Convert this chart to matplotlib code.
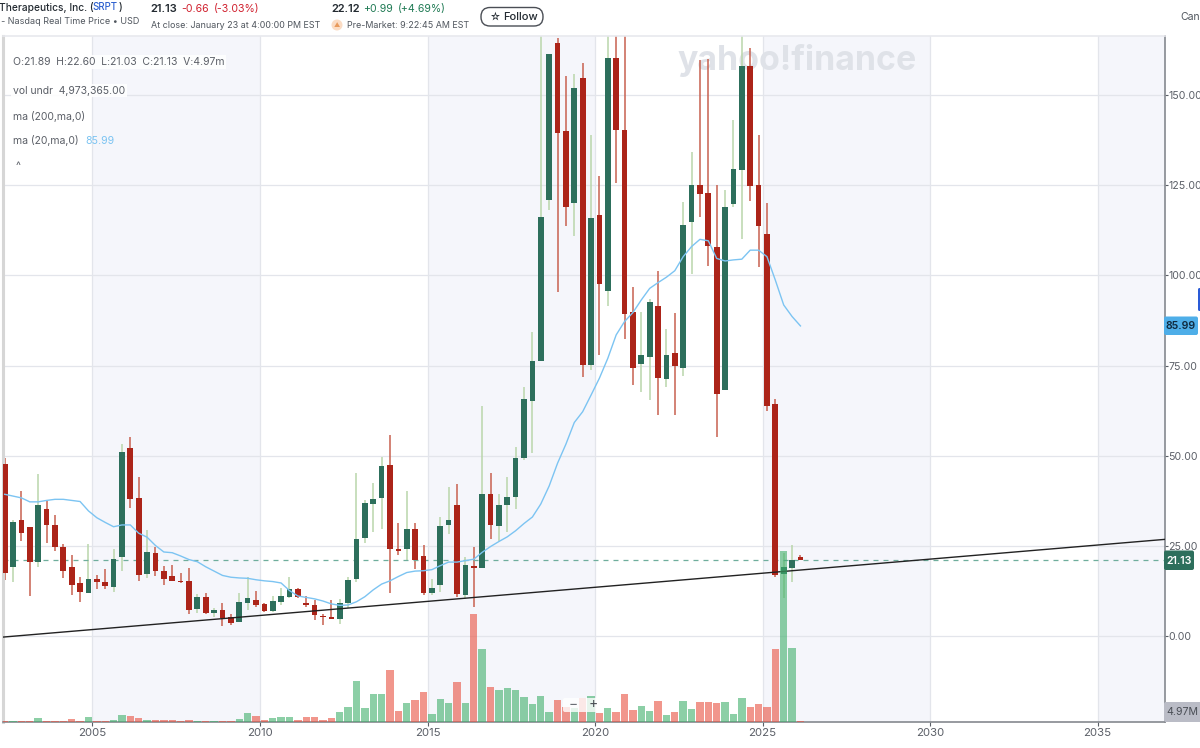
from matplotlib import pyplot as plt
from matplotlib.patches import FancyBboxPatch, Circle
from matplotlib.transforms import IdentityTransform
import numpy as np

# quarterly candles of SRPT
first_year = 2002.38
opens = [47.6, 19.2, 32.1, 30.1, 20.5, 35.3, 30.8, 24.8, 19.1, 14.6, 12.0, 15.7,
         15.1, 13.6, 21.8, 52.1, 38.2, 17.1, 23.0, 18.0, 16.6, 15.3, 15.3, 7.4,
         10.9, 6.5, 7.1, 5.3, 4.0, 9.2, 10.1, 8.8, 6.9, 9.5, 10.8, 13.0,
         9.2, 8.5, 5.6, 5.4, 4.8, 9.1, 15.8, 27.3, 36.7, 38.2, 47.4, 24.0,
         24.2, 29.8, 22.2, 11.8, 14.1, 30.9, 36.2, 11.5, 19.4, 18.8, 39.5, 30.4,
         36.2, 38.6, 49.4, 65.2, 76.2, 121.0, 164.5, 140.0, 120.2, 154.7, 75.2, 116.7,
         95.6, 160.4, 140.3, 89.9, 75.4, 77.5, 91.6, 71.3, 78.5, 74.4, 114.7, 125.1,
         122.9, 108.0, 68.1, 119.9, 129.2, 158.1, 125.1, 111.5, 64.4, 17.1, 18.9, 21.89]
highs = [49.5, 32.2, 40.3, 30.1, 44.8, 37.5, 33.6, 25.4, 22.4, 16.4, 25.4, 17.0,
         18.5, 24.1, 53.2, 55.3, 44.0, 29.4, 24.8, 19.4, 19.7, 17.4, 18.8, 11.6,
         11.8, 7.7, 9.2, 6.0, 11.8, 16.4, 12.5, 9.2, 11.2, 13.3, 16.4, 13.2,
         11.2, 10.0, 6.1, 9.9, 10.3, 16.3, 45.1, 37.7, 42.3, 49.7, 55.7, 31.2,
         40.1, 31.2, 25.1, 15.7, 33.1, 41.4, 42.1, 22.0, 24.6, 63.8, 45.3, 39.3,
         44.2, 52.5, 69.0, 84.3, 172.0, 161.5, 165.7, 155.3, 155.9, 159.0, 138.8, 127.6,
         172.0, 175.0, 180.0, 96.8, 89.9, 93.5, 101.3, 85.1, 89.5, 120.3, 134.1, 159.7,
         160.0, 125.1, 123.6, 143.0, 170.0, 163.0, 138.8, 120.1, 65.8, 23.0, 25.2, 22.60]
lows = [15.5, 15.1, 26.3, 11.2, 19.0, 25.9, 23.6, 16.2, 11.4, 9.3, 12.0, 12.9,
        13.1, 12.3, 17.9, 35.6, 15.3, 16.0, 16.6, 14.1, 15.3, 14.8, 6.1, 6.3,
        6.1, 5.4, 2.9, 3.1, 4.0, 7.2, 8.0, 6.7, 6.7, 8.6, 10.4, 10.4,
        8.0, 4.4, 3.1, 4.8, 3.3, 7.7, 14.9, 25.9, 28.9, 29.7, 12.0, 22.5,
        21.1, 18.5, 11.5, 11.5, 12.1, 28.3, 10.9, 10.2, 8.0, 18.8, 26.8, 26.3,
        28.8, 35.3, 48.8, 50.8, 76.2, 118.1, 95.3, 113.7, 111.0, 71.9, 73.8, 78.0,
        91.6, 125.5, 82.5, 69.6, 67.8, 65.4, 61.3, 69.1, 61.3, 72.1, 100.4, 116.3,
        102.6, 55.3, 68.1, 119.1, 110.0, 120.5, 102.2, 62.5, 16.4, 10.5, 15.1, 21.03]
closes = [17.6, 31.6, 28.6, 20.6, 36.4, 30.9, 24.7, 17.9, 14.2, 12.1, 15.7, 15.0,
          13.9, 21.4, 51.1, 38.0, 16.9, 23.3, 17.9, 15.8, 15.3, 15.0, 7.2, 10.9,
          6.5, 7.3, 5.0, 3.7, 9.4, 10.4, 8.6, 6.9, 9.6, 11.0, 12.9, 10.9,
          8.6, 5.7, 5.3, 4.8, 9.1, 15.5, 26.9, 36.9, 38.0, 47.2, 24.2, 23.7,
          29.8, 21.0, 11.8, 13.3, 30.4, 32.1, 11.6, 19.6, 18.9, 39.3, 30.9, 36.2,
          38.5, 49.4, 65.6, 76.4, 116.2, 161.5, 139.6, 119.1, 152.1, 75.2, 116.0, 97.7,
          160.4, 140.2, 89.4, 74.4, 77.8, 92.5, 71.5, 78.0, 74.9, 114.1, 125.1, 122.7,
          108.2, 67.1, 119.1, 129.6, 158.1, 124.7, 113.7, 63.7, 16.9, 19.2, 21.1, 21.13]
# volume in millions
volumes = [3, 3, 3, 3, 17, 3, 3, 3, 12, 3, 22, 2,
           2, 10, 33, 28, 18, 10, 10, 10, 10, 3, 10, 3,
           3, 3, 3, 3, 13, 43, 28, 10, 17, 22, 22, 10,
           22, 22, 8, 17, 47, 72, 203, 67, 137, 137, 258, 55,
           95, 107, 148, 37, 113, 95, 200, 95, 538, 363, 173, 157,
           168, 157, 122, 90, 127, 48, 107, 73, 67, 120, 130, 42,
           70, 50, 140, 58, 77, 53, 105, 35, 50, 105, 65, 100,
           100, 92, 100, 38, 120, 73, 87, 73, 365, 855, 370, 4.97]
ma20 = [39.3, 38.8, 38.3, 37.2, 37.2, 37.6, 37.9, 37.9, 37.6, 37.3, 34.7, 32.8,
        31.5, 30.3, 30.8, 30.8, 28.5, 27.4, 25.1, 23.3, 23.1, 22.2, 21.2, 20.6,
        19.2, 18.0, 16.8, 16.3, 16.1, 16.0, 15.6, 15.3, 15.1, 14.7, 12.6, 11.1,
        10.7, 10.3, 9.7, 8.9, 8.5, 8.6, 9.5, 10.9, 12.8, 14.4, 15.3, 16.5,
        17.6, 18.0, 18.1, 18.4, 19.5, 20.5, 20.5, 20.9, 21.3, 23.2, 24.8, 26.2,
        27.5, 29.2, 31.2, 33.0, 36.6, 41.6, 47.9, 53.2, 59.2, 62.2, 66.8, 71.5,
        77.0, 83.5, 87.2, 89.7, 93.2, 96.4, 98.0, 99.5, 101.3, 105.2, 108.0, 110.0,
        109.6, 104.7, 104.0, 104.3, 104.5, 107.0, 107.0, 105.2, 98.7, 91.8, 88.6, 85.99]
trend_years = [2002.33, 2037.01]
trend_prices = [-0.3, 26.8]
price_ticks = [0, 25, 50, 75, 100, 125, 150]
year_ticks = [2005, 2010, 2015, 2020, 2025, 2030, 2035]

W, H = 1200, 748
GREEN = '#2d6f5c'
RED = '#ac2419'

plt.rcParams['font.family'] = ['Inter', 'DejaVu Sans']


def label(x, y, s, size=8.0, color='#4a4e55', **kw):
    # x, y are screen pixels from the top left
    return fig.text(x / W, 1 - y / H, s, fontsize=size, color=color, va='center', **kw)


def box(x0, y0, x1, y1, face, edge='none', radius=2.0, lw=1.0, alpha=1.0):
    p = FancyBboxPatch((x0, H - y1), x1 - x0, y1 - y0, boxstyle='round,pad=0,rounding_size=%g' % radius,
                       facecolor=face, edgecolor=edge, linewidth=lw, alpha=alpha,
                       transform=IdentityTransform(), zorder=5)
    fig.add_artist(p)


fig = plt.figure(figsize=(W / 100, H / 100), dpi=100)
ax = fig.add_axes([3 / W, 1 - 721.5 / H, 1162 / W, 685.5 / H])
ax_vol = ax.twinx()
ax.set_zorder(1)
ax_vol.set_zorder(2)
ax_vol.patch.set_visible(False)

years = first_year + 0.25 * np.arange(len(opens))
opens = np.array(opens)
closes = np.array(closes)
up = closes >= opens

# background
for start in [2005, 2015, 2025, 2035]:
    ax.axvspan(start, start + 5, color='#f5f6fb', lw=0, zorder=0)
ax.grid(True, color='#e3e5eb', lw=0.9, zorder=0.5)
ax.set_axisbelow(True)
ax.text(2022.45, 159.7, 'yahoo!finance', fontsize=24.4, fontweight='bold', color='#dfe2e8',
        va='center', zorder=0.8)

# candles
ax.vlines(years[up], np.array(lows)[up], np.array(highs)[up], color='#b9d6ab', lw=1.1, zorder=2)
ax.vlines(years[~up], np.array(lows)[~up], np.array(highs)[~up], color='#c8604f', lw=1.1, zorder=2)
ax.bar(years, np.abs(closes - opens), bottom=np.minimum(opens, closes), width=0.17,
       color=[GREEN if u else RED for u in up], edgecolor='none', zorder=3)

ax.plot(years, ma20, color='#7cc4f2', lw=1.0, zorder=4)
ax.plot(trend_years, trend_prices, color='#222222', lw=1.0, zorder=5)
ax.axhline(closes[-1], color='#6fae9c', lw=0.9, dashes=(4, 4), zorder=2)

ax.set_xlim(2002.33, 2037.01)
ax.set_ylim(-23.71, 166.39)
ax.set_xticks(year_ticks)
ax.set_yticks(price_ticks)
ax.set_yticklabels(['%.2f' % p for p in price_ticks])
ax.yaxis.tick_right()
ax.tick_params(axis='y', colors='#5b5f67', labelsize=7.6, length=2, width=0.8, pad=0.6)
ax.tick_params(axis='x', colors='#5b5f67', labelsize=8.2, length=3, width=0.8, pad=1.5)
for name, sp in ax.spines.items():
    sp.set_color('#85898f')
    sp.set_linewidth(1.2)
ax.spines['top'].set_color('#e8e9ee')
ax.spines['left'].set_color('#d6d6d6')
ax.spines['left'].set_linewidth(2.2)

# volume bars lie over the candles
ax_vol.bar(years, volumes, width=0.22, color=['#3faf6b' if u else '#e9503f' for u in up],
           alpha=0.6, edgecolor='none', zorder=2)
ax_vol.set_ylim(0, 3427.5)
ax_vol.set_yticks([])
for sp in ax_vol.spines.values():
    sp.set_visible(False)

# header
label(-1, 7.5, 'Therapeutics, Inc. (', size=7.3, color='#232a31', fontweight='medium')
label(92.5, 7.5, 'SRPT', size=7.0, color='#2f62d0', fontweight='medium')
label(118.5, 7.5, ')', size=7.3, color='#232a31', fontweight='medium')
label(-4, 21, ': - Nasdaq Real Time Price • USD', size=6.5, color='#50565e')
label(150, 9, '21.13', size=8.0, color='#232a31', fontweight='semibold')
label(181, 9, '-0.66', size=7.6, color='#d0202e')
label(214, 9, '(-3.03%)', size=7.6, color='#d0202e')
label(151, 25, 'At close: January 23 at 4:00:00 PM EST', size=6.45, color='#50565e')
label(331, 9, '22.12', size=8.0, color='#232a31', fontweight='semibold')
label(363, 9, '+0.99', size=7.6, color='#1f7a54')
label(398, 9, '(+4.69%)', size=7.6, color='#1f7a54')
fig.add_artist(Circle((337, H - 25), 5.5, facecolor='#fbdcc4', edgecolor='none', transform=IdentityTransform()))
label(337, 25, '▲', size=4.5, color='#e89a5c', ha='center')
label(347, 25, 'Pre-Market: 9:22:45 AM EST', size=6.45, color='#50565e')
box(481, 7.5, 543, 26, 'white', edge='#4a4e55', radius=9, lw=1.0)
label(489, 17, '☆', size=7.5, color='#232a31', zorder=6)
label(503, 16.5, 'Follow', size=8.0, color='#232a31', fontweight='medium', zorder=6)
label(1180, 17, 'Can', size=7.5, color='#50565e')

# values panel
panel = dict(boxstyle='square,pad=0.15', facecolor='white', edgecolor='none', alpha=0.9)
label(13, 62, 'O:21.89  H:22.60  L:21.03  C:21.13  V:4.97m', size=7.5, color='#5b5f67', bbox=panel, zorder=6)
label(13, 90.5, 'vol undr  4,973,365.00', size=7.5, color='#5b5f67', bbox=panel, zorder=6)
label(13, 116, 'ma (200,ma,0)', size=7.5, color='#5b5f67', bbox=panel, zorder=6)
label(13, 141, 'ma (20,ma,0)', size=7.5, color='#5b5f67', bbox=panel, zorder=6)
label(85, 141, '85.99', size=7.6, color='#7cc4f2', zorder=7)
label(18, 166, '^', size=7.5, color='#5b5f67', ha='center', zorder=6)

# zoom buttons
box(563, 698, 602, 712, 'white', radius=2, alpha=0.8)
label(573, 704, '−', size=10, color='#6a6e75', ha='center', zorder=6)
label(593, 704, '+', size=10, color='#4a4e55', ha='center', zorder=6)

# price tags on the right
box(1198, 288, 1203, 311, '#2a5bd7', radius=1.5)
box(1164, 316.5, 1198, 335, '#4eaee8', radius=2)
label(1181, 326, '85.99', size=7.6, color='#0f2a3f', ha='center', fontweight='semibold', zorder=6)
box(1164, 550.5, 1194, 570, GREEN, radius=2)
label(1179, 560.5, '21.13', size=7.6, color='white', ha='center', fontweight='semibold', zorder=6)
box(1164, 702, 1202, 722, '#babcc6', radius=2)
label(1182, 712, '4.97M', size=7.6, color='#4a4e55', ha='center', zorder=6)

fig.savefig('out.png', dpi=100)
